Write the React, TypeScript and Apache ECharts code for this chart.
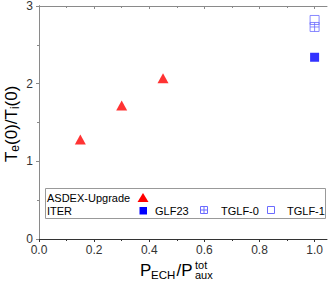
import React, { useEffect, useRef } from 'react';
import * as echarts from 'echarts';

const asdexX = [0.15, 0.3, 0.45];
const asdexY = [1.28, 1.72, 2.07];
const iterX = [1.0];
const glf23Y = [2.34];
const tglf0Y = [2.73];
const tglf1Y = [2.82];
const xMajor = [0, 0.2, 0.4, 0.6, 0.8, 1.0];
const xMinor = [0.1, 0.3, 0.5, 0.7, 0.9];
const legendRow1 = ['ASDEX-Upgrade'];
const legendRow2 = ['ITER', 'GLF23', 'TGLF-0', 'TGLF-1'];

const FONT = 'Liberation Sans, Arial, sans-serif';
const DARK = '#333';
const GRAY = '#8a8a8a';
const LIGHTBLUE = '#6b6bff';

export default function App() {
  const ref = useRef<HTMLDivElement>(null);
  useEffect(() => {
    if (!ref.current) return;
    const chart = echarts.init(ref.current, undefined, { renderer: 'svg' });
    const xRange = { min: 0, max: 1.045 };
    const gridSquare = 'path://M0,0H10V10H0Z M5,0V10 M0,5H10';
    const option: any = {
      animation: false,
      grid: { left: 39, right: 3, top: 5, bottom: 42 },
      xAxis: [
        {
          type: 'value', ...xRange, position: 'bottom',
          axisLine: { lineStyle: { color: DARK, width: 1 } },
          axisTick: { show: true, inside: false, length: 3, customValues: xMajor, lineStyle: { color: DARK } },
          axisLabel: { customValues: xMajor, formatter: (v: number) => v.toFixed(1), fontSize: 12, color: DARK, margin: 5, fontFamily: FONT },
          splitLine: { show: false },
        },
        {
          type: 'value', ...xRange, position: 'bottom',
          axisLine: { show: false },
          axisTick: { show: true, inside: false, length: 2, customValues: xMinor, lineStyle: { color: DARK } },
          axisLabel: { show: false },
          splitLine: { show: false },
        },
        {
          type: 'value', ...xRange, position: 'top',
          axisLine: { lineStyle: { color: GRAY, width: 1 } },
          axisTick: { show: true, inside: true, length: 3, customValues: xMajor, lineStyle: { color: GRAY } },
          axisLabel: { show: false },
          splitLine: { show: false },
        },
        {
          type: 'value', ...xRange, position: 'top',
          axisLine: { show: false },
          axisTick: { show: true, inside: true, length: 2, customValues: xMinor, lineStyle: { color: GRAY } },
          axisLabel: { show: false },
          splitLine: { show: false },
        },
      ],
      yAxis: [
        {
          type: 'value', min: 0, max: 3, interval: 1, position: 'left',
          axisLine: { show: true, lineStyle: { color: DARK, width: 1 } },
          axisTick: { show: true, inside: false, length: 3, lineStyle: { color: DARK } },
          minorTick: { show: true, splitNumber: 2, length: 2, lineStyle: { color: DARK } },
          axisLabel: { fontSize: 12, color: DARK, margin: 6, fontFamily: FONT },
          splitLine: { show: false },
        },
        {
          type: 'value', min: 0, max: 3, interval: 1, position: 'right',
          axisLine: { show: true, lineStyle: { color: GRAY, width: 1 } },
          axisTick: { show: true, inside: true, length: 3, lineStyle: { color: GRAY } },
          minorTick: { show: true, splitNumber: 2, length: 2, lineStyle: { color: GRAY } },
          axisLabel: { show: false },
          splitLine: { show: false },
        },
      ],
      series: [
        {
          name: 'ASDEX-Upgrade', type: 'scatter', xAxisIndex: 0, yAxisIndex: 0,
          symbol: 'triangle', symbolSize: [11, 10],
          itemStyle: { color: '#ff0000' },
          data: asdexX.map((x, i) => [x, asdexY[i]]),
        },
        {
          name: 'GLF23', type: 'scatter', xAxisIndex: 0, yAxisIndex: 0,
          symbol: 'rect', symbolSize: 9,
          itemStyle: { color: '#0000ff' },
          data: iterX.map((x, i) => [x, glf23Y[i]]),
        },
        {
          name: 'TGLF-0', type: 'scatter', xAxisIndex: 0, yAxisIndex: 0,
          symbol: gridSquare, symbolSize: 9,
          itemStyle: { color: 'rgba(0,0,0,0)', borderColor: LIGHTBLUE, borderWidth: 1 },
          data: iterX.map((x, i) => [x, tglf0Y[i]]),
        },
        {
          name: 'TGLF-1', type: 'scatter', xAxisIndex: 0, yAxisIndex: 0,
          symbol: 'rect', symbolSize: 9,
          itemStyle: { color: 'rgba(0,0,0,0)', borderColor: LIGHTBLUE, borderWidth: 1 },
          data: iterX.map((x, i) => [x, tglf1Y[i]]),
        },
      ],
      graphic: [
        // legend box
        { type: 'rect', shape: { x: 45.5, y: 188.5, width: 280, height: 30 }, style: { fill: '#fff', stroke: '#999', lineWidth: 1 }, z: 10 },
        { type: 'text', x: 47, y: 198, z: 11, style: { text: legendRow1[0], fontSize: 11, fontFamily: FONT, fill: '#000', verticalAlign: 'middle', align: 'left' } },
        { type: 'polygon', z: 11, shape: { points: [[137.5, 202], [148.5, 202], [143, 193]] }, style: { fill: '#ff0000' } },
        { type: 'text', x: 47, y: 211, z: 11, style: { text: legendRow2[0], fontSize: 11, fontFamily: FONT, fill: '#000', verticalAlign: 'middle', align: 'left' } },
        { type: 'rect', z: 11, shape: { x: 139.5, y: 207, width: 7.5, height: 7.5 }, style: { fill: '#0000ff' } },
        { type: 'text', x: 155, y: 211, z: 11, style: { text: legendRow2[1], fontSize: 11, fontFamily: FONT, fill: '#000', verticalAlign: 'middle', align: 'left' } },
        { type: 'rect', z: 11, shape: { x: 200.5, y: 206.5, width: 7, height: 7 }, style: { fill: 'none', stroke: LIGHTBLUE, lineWidth: 1 } },
        { type: 'line', z: 11, shape: { x1: 204, y1: 206.5, x2: 204, y2: 213.5 }, style: { stroke: LIGHTBLUE, lineWidth: 1 } },
        { type: 'line', z: 11, shape: { x1: 200.5, y1: 210, x2: 207.5, y2: 210 }, style: { stroke: LIGHTBLUE, lineWidth: 1 } },
        { type: 'text', x: 221, y: 211, z: 11, style: { text: legendRow2[2], fontSize: 11, fontFamily: FONT, fill: '#000', verticalAlign: 'middle', align: 'left' } },
        { type: 'rect', z: 11, shape: { x: 267.5, y: 206.5, width: 7, height: 7 }, style: { fill: 'none', stroke: LIGHTBLUE, lineWidth: 1 } },
        { type: 'text', x: 287, y: 211, z: 11, style: { text: legendRow2[3], fontSize: 11, fontFamily: FONT, fill: '#000', verticalAlign: 'middle', align: 'left' } },
        // x axis name
        { type: 'text', x: 140, y: 270.5, style: { text: 'P', fontSize: 17, fontFamily: FONT, fill: '#000', verticalAlign: 'middle', align: 'left' } },
        { type: 'text', x: 151, y: 275, style: { text: 'ECH', fontSize: 11.5, fontFamily: FONT, fill: '#000', verticalAlign: 'middle', align: 'left' } },
        { type: 'text', x: 176.5, y: 270.5, style: { text: '/P', fontSize: 17, fontFamily: FONT, fill: '#000', verticalAlign: 'middle', align: 'left' } },
        { type: 'text', x: 195, y: 264.5, style: { text: 'tot', fontSize: 11, fontFamily: FONT, fill: '#000', verticalAlign: 'middle', align: 'left' } },
        { type: 'text', x: 195, y: 275, style: { text: 'aux', fontSize: 11, fontFamily: FONT, fill: '#000', verticalAlign: 'middle', align: 'left' } },
        // y axis name
        {
          type: 'text', x: 11, y: 162, rotation: Math.PI / 2,
          style: {
            text: '{b|T}{s|e}{b|(0)/T}{s|i}{b|(0)}',
            align: 'left', verticalAlign: 'middle',
            rich: {
              b: { fontSize: 17, fontFamily: FONT, fill: '#000' },
              s: { fontSize: 12, fontFamily: FONT, fill: '#000', padding: [8, 0, 0, 0] },
            },
          },
        },
      ],
    };
    chart.setOption(option);
    return () => chart.dispose();
  }, []);
  return <div ref={ref} style={{ position: 'absolute', left: 0, top: 0, width: 330, height: 281 }} />;
}
